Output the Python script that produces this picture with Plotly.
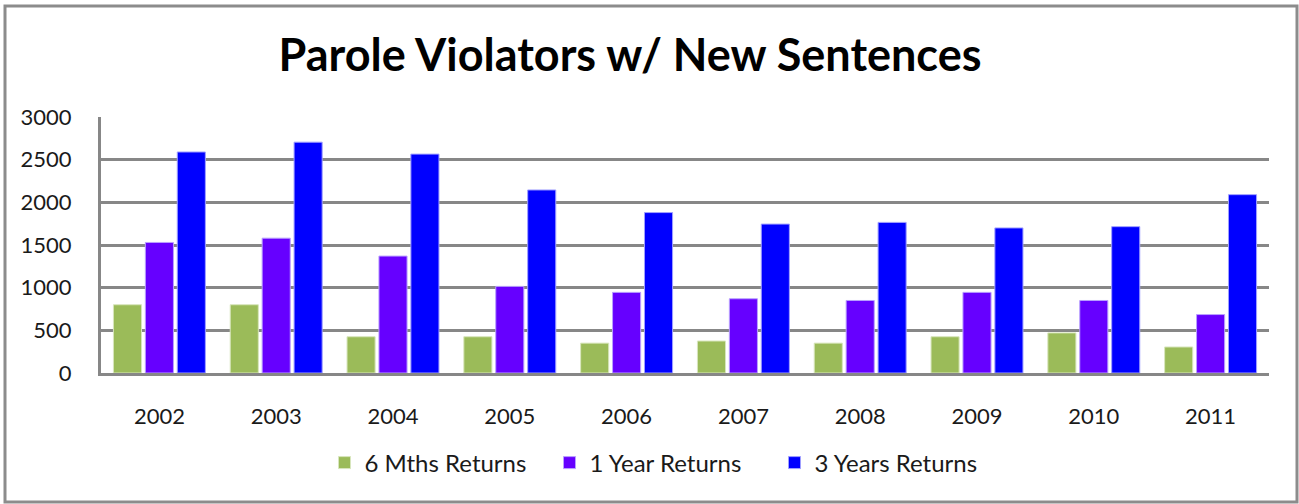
import plotly.graph_objects as go

years = ["2002", "2003", "2004", "2005", "2006", "2007", "2008", "2009", "2010", "2011"]
six_months = [800, 800, 425, 425, 350, 375, 350, 425, 470, 305]
one_year = [1530, 1580, 1370, 1015, 945, 870, 850, 945, 850, 685]
three_years = [2590, 2705, 2565, 2145, 1880, 1745, 1765, 1700, 1715, 2090]

fig = go.Figure()
fig.add_trace(go.Bar(x=years, y=six_months, name="6 Mths Returns",
                     marker=dict(color="#9BBB59", line=dict(color="#d8e6bd", width=1))))
fig.add_trace(go.Bar(x=years, y=one_year, name="1 Year Returns",
                     marker=dict(color="#6600FF", line=dict(color="#b9a0ff", width=1))))
fig.add_trace(go.Bar(x=years, y=three_years, name="3 Years Returns",
                     marker=dict(color="#0000FF", line=dict(color="#a0a0ff", width=1))))

# plot area in pixels: left 101, right 1269, top 117, bottom 373
pw, ph = 1168, 256
fig.add_shape(type="rect", xref="paper", yref="paper",
              x0=(5 - 101) / pw, x1=(1297 - 101) / pw,
              y0=(373 - 502) / ph, y1=(373 - 6) / ph,
              line=dict(color="#8c8c8c", width=3), fillcolor="rgba(0,0,0,0)", layer="below")

fig.update_layout(
    width=1299, height=504,
    margin=dict(l=101, r=30, t=117, b=131),
    paper_bgcolor="white", plot_bgcolor="white",
    font=dict(family="Lato", size=22, color="#1a1a1a"),
    title=dict(text="<b>Parole Violators w/ New Sentences</b>", x=630 / 1299, xanchor="center",
               y=1 - 55 / 504, yanchor="middle", font=dict(size=45, color="black")),
    barmode="group", bargap=0.18, bargroupgap=0.12,
    showlegend=True,
    legend=dict(orientation="h", x=(662 - 101) / pw, xanchor="center", y=(373 - 463) / ph,
                yanchor="middle", font=dict(size=24), itemwidth=30, entrywidth=180),
)
fig.update_yaxes(range=[0, 3000], dtick=500, showgrid=True, gridcolor="#878787", gridwidth=3,
                 showline=True, linecolor="#878787", linewidth=3, zeroline=False,
                 ticks="", ticklabelstandoff=22)
fig.update_xaxes(showline=True, linecolor="#878787", linewidth=3, ticks="",
                 ticklabelstandoff=22)

fig.write_html("out.html", config={"displayModeBar": False},
               post_script="document.body.style.margin='0';")
